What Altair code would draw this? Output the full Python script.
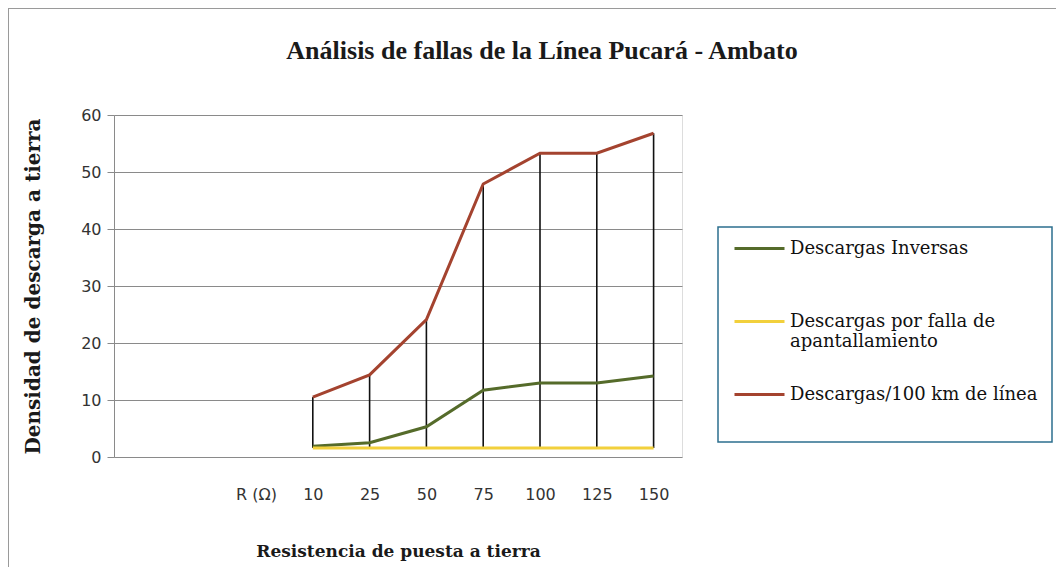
import altair as alt
import pandas as pd

# ---- data ----
categorias = ["", " ", "R (Ω)", "10", "25", "50", "75", "100", "125", "150"]
resistencia = ["10", "25", "50", "75", "100", "125", "150"]
inversas = [1.9, 2.5, 5.3, 11.7, 13.0, 13.0, 14.2]
apantallamiento = [1.6, 1.6, 1.6, 1.6, 1.6, 1.6, 1.6]
por_100km = [10.5, 14.4, 24.1, 47.9, 53.3, 53.3, 56.8]

series = ["Descargas Inversas",
          "Descargas por falla de apantallamiento",
          "Descargas/100 km de línea"]
colores = ["#556b2a", "#f2d03c", "#a4432f"]

rows = []
for name, vals in zip(series, [inversas, apantallamiento, por_100km]):
    for i, (r, v) in enumerate(zip(resistencia, vals)):
        rows.append({"R": r, "i": i, "valor": v, "serie": name})
df = pd.DataFrame(rows)

hl = pd.DataFrame({
    "R": resistencia,
    "bajo": [min(a, b, c) for a, b, c in zip(inversas, apantallamiento, por_100km)],
    "alto": [max(a, b, c) for a, b, c in zip(inversas, apantallamiento, por_100km)],
})

W, H = 568, 342
PAD_L, PAD_T = 106, 107

xscale = alt.Scale(type="point", domain=categorias, padding=0.5)
yscale = alt.Scale(domain=[0, 60])

xaxis = alt.Axis(title="Resistencia de puesta a tierra", domain=False, ticks=False,
                 grid=False, labelAngle=0, labelFont="DejaVu Sans", labelFontSize=16,
                 labelColor="#333333", labelPadding=29,
                 titleFont="DejaVu Serif", titleFontSize=17, titleFontWeight="bold",
                 titleColor="#1a1a1a", titlePadding=41)
yaxis = alt.Axis(title="Densidad de descarga a tierra", values=[0, 10, 20, 30, 40, 50, 60],
                 grid=True, gridColor="#8a8a8a", gridWidth=1,
                 domain=True, domainColor="#8a8a8a", tickColor="#8a8a8a", tickSize=7,
                 labelFont="DejaVu Sans", labelFontSize=16, labelColor="#333333",
                 labelPadding=6,
                 titleFont="DejaVu Serif", titleFontSize=20, titleFontWeight="bold",
                 titleColor="#1a1a1a", titlePadding=37)

border = alt.Chart(pd.DataFrame({"k": [0]})).mark_rect(
    fill="transparent", stroke="#9a9a9a", strokeWidth=2
).encode(x=alt.value(-PAD_L), y=alt.value(-PAD_T), x2=alt.value(1100), y2=alt.value(700))

caja = alt.Chart(pd.DataFrame({"k": [0]})).mark_rect(
    fill="white", stroke="#2d6f8f", strokeWidth=1.5
).encode(x=alt.value(604), y=alt.value(112), x2=alt.value(938), y2=alt.value(327))

hilo = alt.Chart(hl).mark_rule(color="#111111", strokeWidth=1.6).encode(
    x=alt.X("R:N", scale=xscale, axis=xaxis),
    y=alt.Y("bajo:Q", scale=yscale, axis=yaxis),
    y2="alto:Q",
)

lineas = alt.Chart(df).mark_line(strokeWidth=3).encode(
    x=alt.X("R:N", scale=xscale, axis=xaxis),
    y=alt.Y("valor:Q", scale=yscale, axis=yaxis),
    color=alt.Color("serie:N", scale=alt.Scale(domain=series, range=colores),
                    sort=series,
                    legend=alt.Legend(
                        title=None, orient="none", legendX=619, legendY=107,
                        symbolType="stroke", symbolSize=2500, symbolStrokeWidth=3,
                        labelFont="DejaVu Serif", labelFontSize=18,
                        labelColor="#111111", labelLimit=400, labelOffset=4,
                        labelExpr="datum.label == 'Descargas por falla de apantallamiento' ? ['Descargas por falla de', 'apantallamiento'] : [datum.label, '']",
                        rowPadding=17, padding=0, strokeColor="transparent")),
    order=alt.Order("i:Q"),
)

chart = alt.layer(border, caja, hilo, lineas).properties(
    width=W, height=H,
    title=alt.TitleParams("Análisis de fallas de la Línea Pucará - Ambato",
                          font="Liberation Serif", fontSize=26, fontWeight="bold",
                          color="#1a1a1a", anchor="middle", dx=144, dy=57, offset=0),
    autosize=alt.AutoSizeParams(type="none"),
    padding={"left": PAD_L, "top": PAD_T, "right": 1048 - PAD_L - W, "bottom": 110},
).configure_view(stroke=None).configure(background="white")

chart.save("out.html", embed_options={"renderer": "svg", "actions": False})
